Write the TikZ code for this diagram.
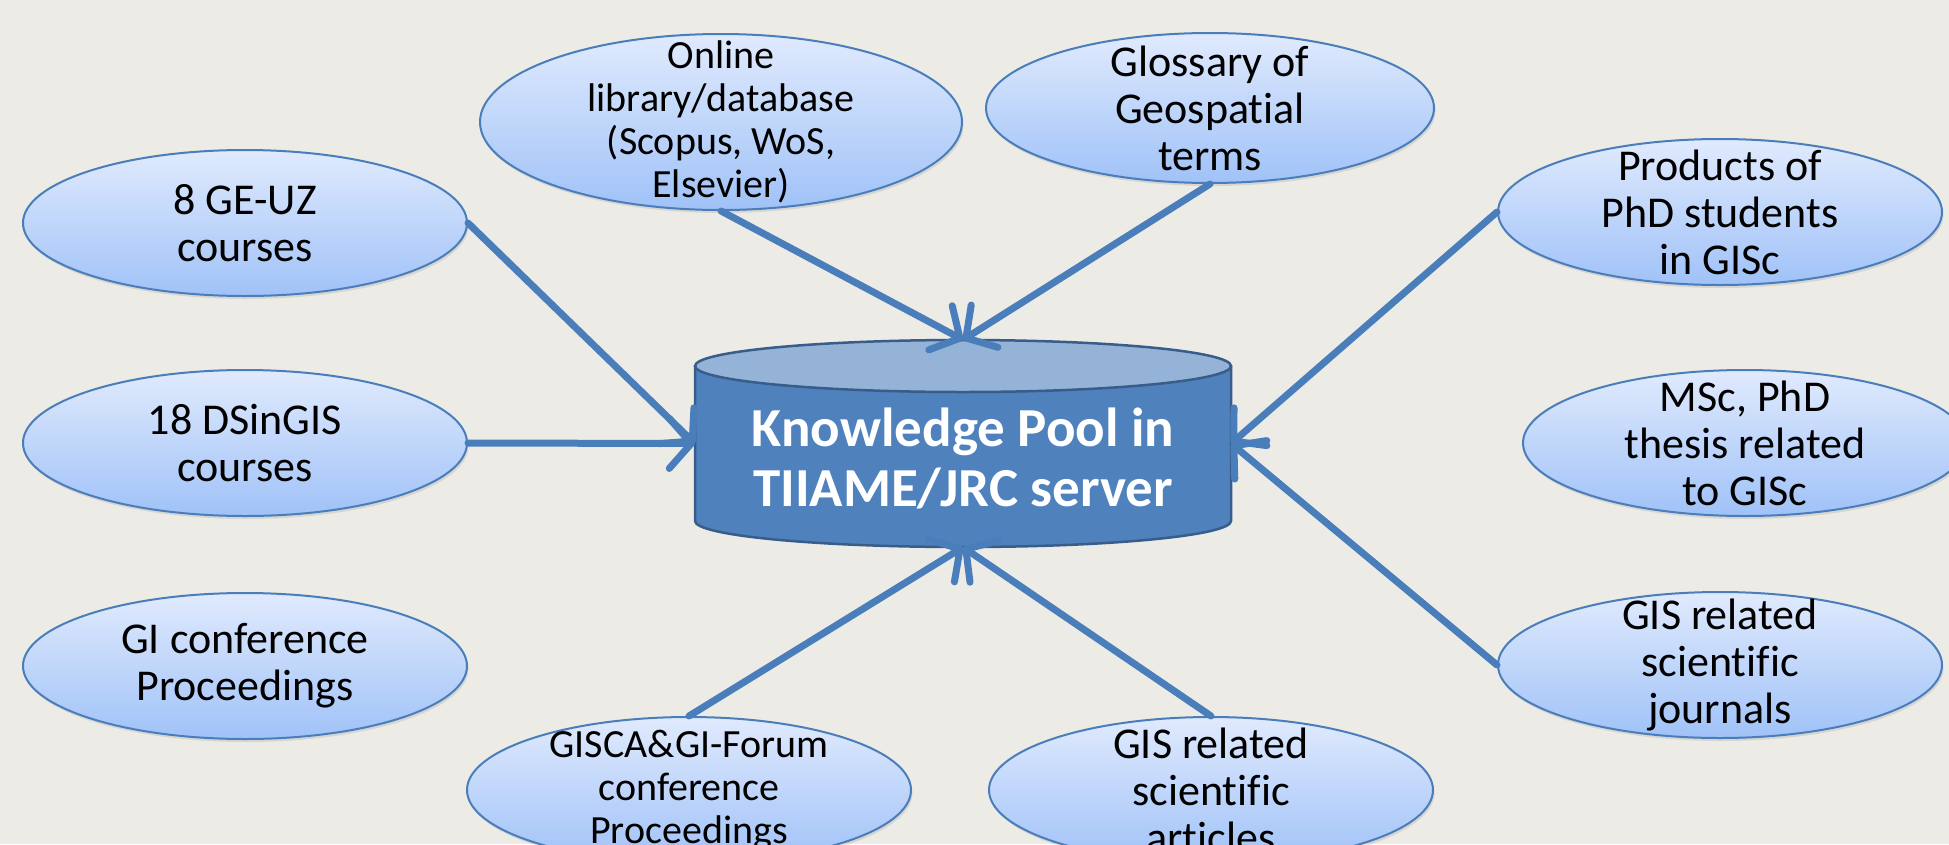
\documentclass[tikz,border=0pt]{standalone}
\usepackage{fontspec}
\setmainfont{Carlito}[Ligatures=CommonOff]
\usetikzlibrary{arrows.meta,shapes.geometric,shadows}
\definecolor{bg}{RGB}{236,235,230}
\definecolor{edge}{RGB}{74,126,187}
\definecolor{ftop}{RGB}{224,234,253}
\definecolor{fbot}{RGB}{160,194,248}
\definecolor{cylbody}{RGB}{79,129,189}
\definecolor{cyltop}{RGB}{149,179,215}
\definecolor{cylline}{RGB}{56,93,138}
\begin{document}
\begin{tikzpicture}[x=1pt,y=-1pt,
  bubble/.style={ellipse, draw=edge, line width=2pt, top color=ftop, bottom color=fbot,
    inner sep=0pt, minimum width=444pt, minimum height=146pt,
    drop shadow={shadow xshift=1.5pt, shadow yshift=-3pt, opacity=0.2}},
  btext/.style={align=center, inner sep=0pt, text=black, font=\fontsize{44}{47}\selectfont},
  stext/.style={align=center, inner sep=0pt, text=black, font=\fontsize{40}{43}\selectfont},
  conn/.style={draw=edge, line width=7pt, line cap=round,
    -{Straight Barb[length=22pt,width=50pt,round]}},
  pooltextstyle/.style={align=center, inner sep=0pt, text=white,
    font=\bfseries\fontsize{55}{60}\selectfont},
]
\useasboundingbox (0,0) rectangle (1949,844);
\clip (0,0) rectangle (1949,844);
\fill[bg] (0,0) rectangle (1949,844);

% central cylinder
\node[rectangle, inner sep=0pt, minimum width=536pt, minimum height=207pt] (pool) at (963,443.5) {};
\filldraw[fill=cylbody, draw=cylline, line width=2.5pt, line join=round]
  (695,366) -- (695,521) arc[start angle=180, end angle=360, x radius=268pt, y radius=26pt]
  -- (1231,366) -- cycle;
\filldraw[fill=cyltop, draw=cylline, line width=2.5pt] (963,366) ellipse[x radius=268pt, y radius=26pt];
\node[pooltextstyle] (pooltext) at (963,458) {Knowledge Pool in\\TIIAME/JRC server};

% bubbles
\node[bubble] (ge) at (245,223) {};
\node[btext] (ge-t) at (ge) {8 GE-UZ\\courses};
\node[bubble] (ds) at (245,443) {};
\node[btext] (ds-t) at (ds) {18 DSinGIS\\courses};
\node[bubble] (gi) at (245,666) {};
\node[btext] (gi-t) at (gi) {GI conference\\Proceedings};

\node[bubble, minimum width=482pt, minimum height=176pt] (online) at (721,122) {};
\node[stext] (online-t) at (online) {Online\\library/database\\(Scopus, WoS,\\Elsevier)};
\node[bubble, minimum width=448pt, minimum height=150pt] (gloss) at (1210,108) {};
\node[btext] (gloss-t) at (gloss) {Glossary of\\Geospatial\\terms};

\node[bubble] (prod) at (1720,212) {};
\node[btext] (prod-t) at (prod) {Products of\\PhD students\\in GISc};
\node[bubble] (msc) at (1745,443) {};
\node[btext] (msc-t) at (msc) {MSc, PhD\\thesis related\\to GISc};
\node[bubble] (jour) at (1720,665) {};
\node[btext] (jour-t) at (jour) {GIS related\\scientific\\journals};

\node[bubble] (gisca) at (689,790) {};
\node[stext] (gisca-t) at (gisca) {GISCA\&GI-Forum\\conference\\Proceedings};
\node[bubble] (arts) at (1211,790) {};
\node[btext] (arts-t) at (arts) {GIS related\\scientific\\articles};

% connectors
\draw[conn] (ge.east) -- (pool.west);
\draw[conn] (ds.east) -- (pool.west);
\draw[conn] (online.south) -- (pool.north);
\draw[conn] (gloss.south) -- (pool.north);
\draw[conn] (prod.west) -- (pool.east);
\draw[conn] (jour.west) -- (pool.east);
\draw[conn] (gisca.north) -- (pool.south);
\draw[conn] (arts.north) -- (pool.south);
\end{tikzpicture}
\end{document}
